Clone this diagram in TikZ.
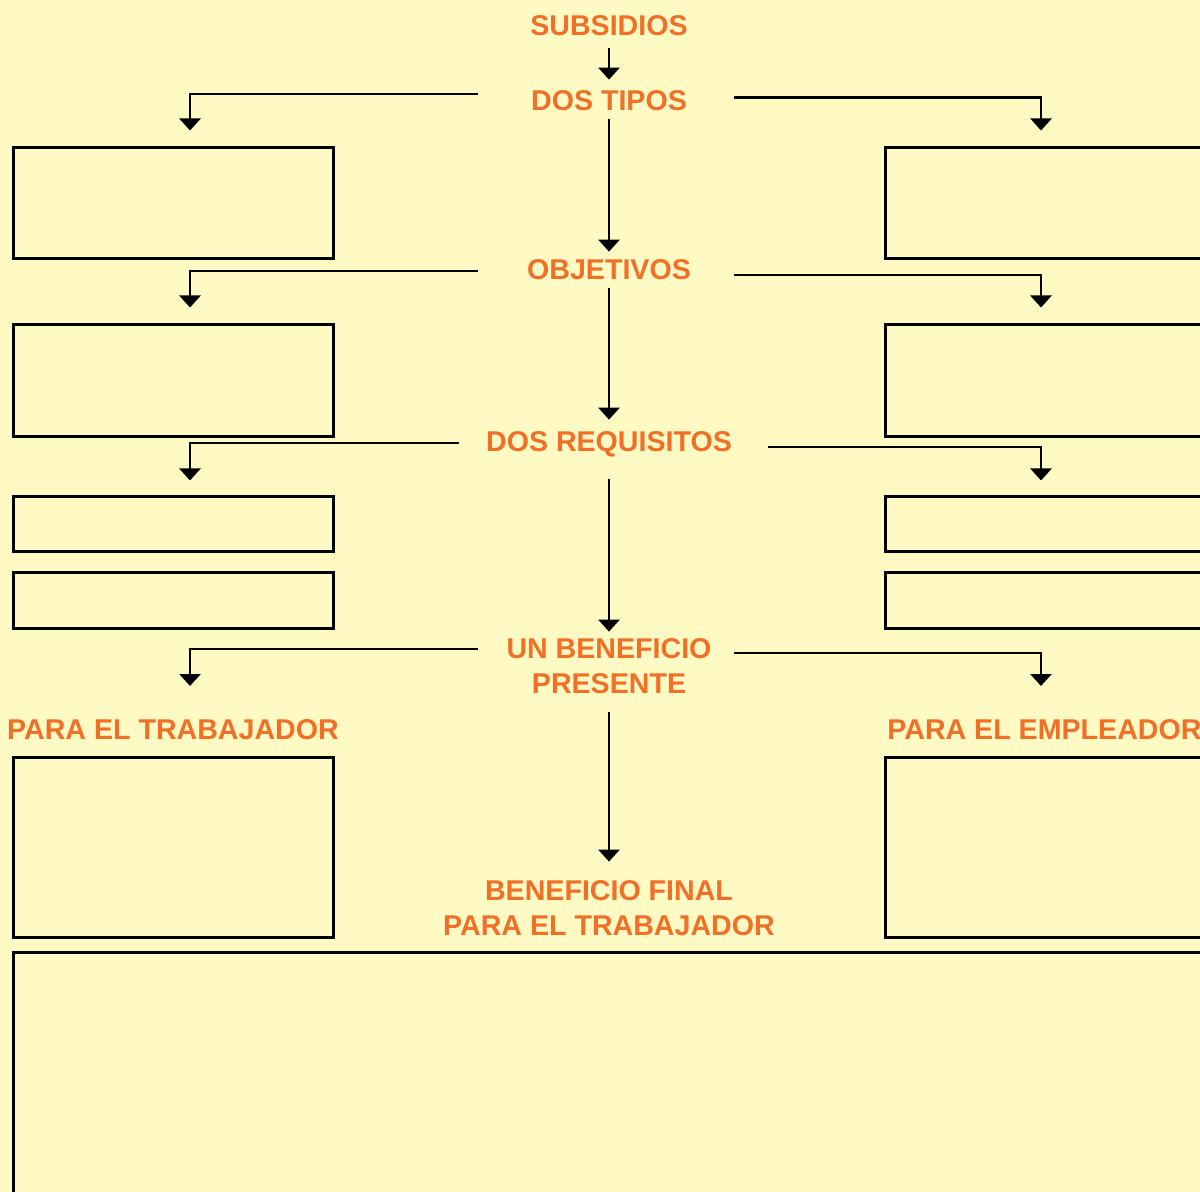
\documentclass[tikz,border=0pt]{standalone}
\usepackage{fontspec}
\setmainfont{Liberation Sans}
\usetikzlibrary{arrows.meta}
\definecolor{bg}{RGB}{255,250,196}
\definecolor{org}{RGB}{240,112,40}
\begin{document}
\begin{tikzpicture}[x=0.5pt,y=-0.5pt,
  lbl/.style={text=org, font=\bfseries\fontsize{14.3}{17.5}\selectfont, inner sep=0pt, anchor=base, align=center},
  conn/.style={line width=1.4pt, -{Triangle[width=10.5pt,length=6pt]}},
  panel/.style={draw, line width=1.5pt, anchor=north west, inner sep=0pt, outer sep=0pt}]
\useasboundingbox (0,0) rectangle (1200,1192);
\fill[bg] (0,0) rectangle (1200,1192);
\clip (0,0) rectangle (1200,1192);

% labels
\node[lbl] (subs) at (609,36) {SUBSIDIOS};
\node[lbl] (tipos) at (609,111) {DOS TIPOS};
\node[lbl] (obj) at (609,280) {OBJETIVOS};
\node[lbl] (req) at (609,452) {DOS REQUISITOS};
\node[lbl] (benef) at (609,693) {UN BENEFICIO\\PRESENTE};
\node[lbl] (trab) at (173,739) {PARA EL TRABAJADOR};
\node[lbl, anchor=base west] (empl) at (887,739) {PARA EL EMPLEADOR};
\node[lbl] (final) at (609,935) {BENEFICIO FINAL\\PARA EL TRABAJADOR};

% boxes
\node[panel, minimum width=160pt, minimum height=55.5pt] (l1) at (13,148) {};
\node[panel, minimum width=162.5pt, minimum height=55.5pt] (r1) at (885,148) {};
\node[panel, minimum width=160pt, minimum height=56pt] (l2) at (13,325) {};
\node[panel, minimum width=162.5pt, minimum height=56pt] (r2) at (885,325) {};
\node[panel, minimum width=160pt, minimum height=27.5pt] (l3) at (13,497) {};
\node[panel, minimum width=162.5pt, minimum height=27.5pt] (r3) at (885,497) {};
\node[panel, minimum width=160pt, minimum height=27.5pt] (l4) at (13,573) {};
\node[panel, minimum width=162.5pt, minimum height=27.5pt] (r4) at (885,573) {};
\node[panel, minimum width=160pt, minimum height=90pt] (l5) at (13,757) {};
\node[panel, minimum width=162.5pt, minimum height=90pt] (r5) at (885,757) {};
\node[panel, minimum width=598.5pt, minimum height=124pt] (bottom) at (13,952) {};

% main vertical connectors
\draw[conn, shorten <=5.5pt, shorten >=5.5pt] (subs) -- (tipos);
\draw[conn, shorten <=3.5pt, shorten >=4pt] (tipos) -- (obj);
\draw[conn, shorten <=3.5pt, shorten >=6pt] (obj) -- (req);
\draw[conn, shorten <=10.5pt, shorten >=3pt] (req) -- (benef);
\draw[conn, shorten <=9pt, shorten >=9pt] (benef) -- (final);

% side connector ends
\coordinate (tipL) at (478,94);   \coordinate (tipLa) at (190,130.5);
\coordinate (tipR) at (734,97.5); \coordinate (tipRa) at (1041,130.5);
\coordinate (objL) at (478,271);  \coordinate (objLa) at (190,307.5);
\coordinate (objR) at (734,275);  \coordinate (objRa) at (1041,307.5);
\coordinate (reqL) at (459,443);  \coordinate (reqLa) at (190,480.5);
\coordinate (reqR) at (768,447);  \coordinate (reqRa) at (1041,480.5);
\coordinate (benL) at (478,649);  \coordinate (benLa) at (190,686);
\coordinate (benR) at (734,653);  \coordinate (benRa) at (1041,686);

\draw[conn] (tipL) -| (tipLa);
\draw[conn] (tipR) -| (tipRa);
\draw[conn] (objL) -| (objLa);
\draw[conn] (objR) -| (objRa);
\draw[conn] (reqL) -| (reqLa);
\draw[conn] (reqR) -| (reqRa);
\draw[conn] (benL) -| (benLa);
\draw[conn] (benR) -| (benRa);
\end{tikzpicture}
\end{document}
